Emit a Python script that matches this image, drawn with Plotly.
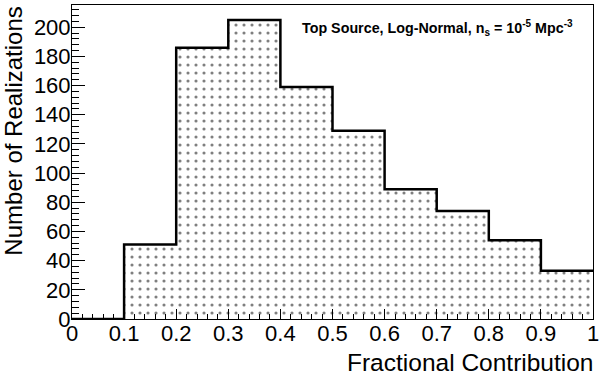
import numpy as np
import plotly.graph_objects as go

# histogram of fractional contribution (bin edges 0..1, step 0.1)
bin_edges = [0.0, 0.1, 0.2, 0.3, 0.4, 0.5, 0.6, 0.7, 0.8, 0.9, 1.0]
counts = [0, 51, 186, 205, 159, 129, 89, 74, 54, 33]

x_ticks = [0, 0.1, 0.2, 0.3, 0.4, 0.5, 0.6, 0.7, 0.8, 0.9, 1]
x_ticklabels = ["0", "0.1", "0.2", "0.3", "0.4", "0.5", "0.6", "0.7", "0.8", "0.9", "1"]
y_ticks = [0, 20, 40, 60, 80, 100, 120, 140, 160, 180, 200]

FONT = "Liberation Sans, Arial, Helvetica, sans-serif"

edges = np.array(bin_edges)
centers = (edges[:-1] + edges[1:]) / 2
widths = edges[1:] - edges[:-1]

fig = go.Figure()

# dotted fill (ROOT-like fill style)
fig.add_trace(go.Bar(
    x=centers, y=counts, width=widths,
    marker=dict(
        color="white",
        line=dict(width=0),
        pattern=dict(shape=".", fgcolor="black", bgcolor="white",
                     size=8, solidity=0.12, fillmode="overlay"),
    ),
    showlegend=False, hoverinfo="skip",
))

# histogram outline
fig.add_trace(go.Scatter(
    x=list(edges), y=counts + [counts[-1]],
    mode="lines", line=dict(color="black", width=2.5, shape="hv"),
    showlegend=False, hoverinfo="skip",
))

fig.update_layout(
    width=600, height=378,
    margin=dict(l=72, r=7, t=5, b=59),
    plot_bgcolor="white", paper_bgcolor="white",
    bargap=0,
    font=dict(family=FONT, size=22, color="black"),
    xaxis=dict(
        range=[0, 1], tickvals=x_ticks, ticktext=x_ticklabels,
        ticks="inside", ticklen=10, tickwidth=1, tickcolor="black",
        minor=dict(dtick=0.02, ticks="inside", ticklen=5, tickcolor="black"),
        showline=True, linecolor="black", linewidth=1, mirror=True,
        showgrid=False, zeroline=False, automargin=False,
        ticklabelstandoff=-5,
        tickfont=dict(family=FONT, size=22),
    ),
    yaxis=dict(
        range=[0, 215.25], tickvals=y_ticks,
        ticks="inside", ticklen=13, tickwidth=1, tickcolor="black",
        minor=dict(dtick=4, ticks="inside", ticklen=7, tickcolor="black"),
        showline=True, linecolor="black", linewidth=1, mirror=True,
        showgrid=False, zeroline=False, automargin=False,
        ticklabelstandoff=-4,
        tickfont=dict(family=FONT, size=22),
    ),
    annotations=[
        dict(text="Fractional Contribution", xref="paper", yref="paper",
             x=1, y=-0.137, xanchor="right", yanchor="middle", xshift=2,
             showarrow=False, font=dict(family=FONT, size=24.5)),
        dict(text="Number of Realizations", xref="paper", yref="paper",
             x=-0.113, y=1, xanchor="center", yanchor="top", textangle=-90,
             showarrow=False, font=dict(family=FONT, size=24)),
        dict(text="<b>Top Source, Log-Normal, n<sub>s</sub> = 10<sup>-5</sup> Mpc<sup>-3</sup></b>",
             xref="paper", yref="paper", x=0.965, y=0.927,
             xanchor="right", yanchor="middle",
             showarrow=False, font=dict(family=FONT, size=14.3)),
    ],
)

fig.write_html("out.html", config={"displayModeBar": False},
               post_script="document.body.style.margin='0px';")
